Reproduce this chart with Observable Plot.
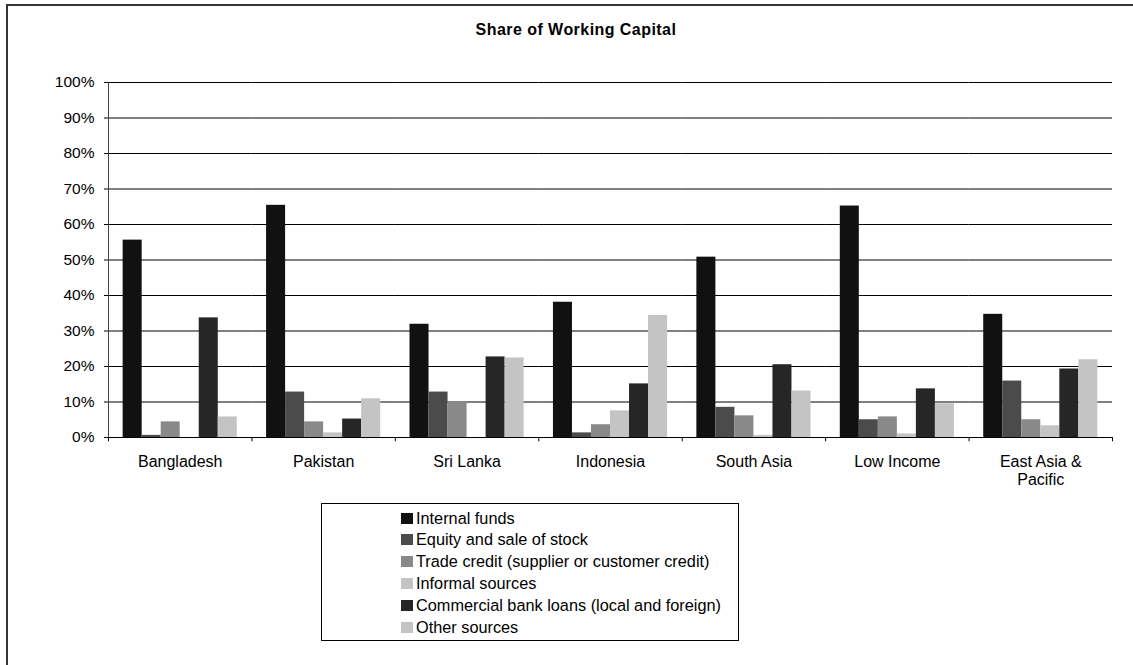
<!DOCTYPE html>
<html>
<head>
<meta charset="utf-8">
<script src="https://cdn.jsdelivr.net/npm/d3@7"></script>
<script src="https://cdn.jsdelivr.net/npm/@observablehq/plot@0.6"></script>
<style>
  html, body { margin: 0; padding: 0; background: #fff; }
  body { width: 1133px; height: 665px; position: relative; overflow: hidden;
         font-family: "Liberation Sans", Arial, Helvetica, sans-serif; color: #000; }
  #frame { position: absolute; left: 6px; top: 4px; width: 1200px; height: 720px;
           border-left: 2px solid #333; border-top: 2px solid #333; }
  #title { position: absolute; left: 0; width: 1152px; top: 21px; text-align: center;
           font-weight: bold; font-size: 16px; letter-spacing: 0.45px; }
  #chart { position: absolute; left: 0; top: 0; }
  #legend { position: absolute; left: 321px; top: 503px; width: 418px; height: 138px;
            border: 1px solid #000; box-sizing: border-box; }
  .item { position: absolute; left: 79px; height: 20px; display: flex; align-items: center;
          font-size: 16.3px; white-space: nowrap; }
  .sw { width: 12px; height: 11px; margin-right: 3px; }
</style>
</head>
<body>
<div id="frame"></div>
<div id="title">Share of Working Capital</div>
<div id="chart"></div>
<div id="legend"></div>
<script>
const countries = ["Bangladesh", "Pakistan", "Sri Lanka", "Indonesia", "South Asia", "Low Income", "East Asia & Pacific"];
const series = [
  "Internal funds",
  "Equity and sale of stock",
  "Trade credit (supplier or customer credit)",
  "Informal sources",
  "Commercial bank loans (local and foreign)",
  "Other sources"
];
const colors = ["#111111", "#4b4b4b", "#898989", "#c4c4c4", "#262626", "#c4c4c4"];

const internalFunds = [55.6, 65.4, 31.9, 38.1, 50.8, 65.2, 34.7];
const equity        = [0.6, 12.8, 12.8, 1.3, 8.5, 5.0, 15.9];
const tradeCredit   = [4.4, 4.4, 10.1, 3.6, 6.1, 5.8, 5.0];
const informal      = [0, 1.3, 0, 7.5, 0.6, 1.0, 3.3];
const bankLoans     = [33.7, 5.2, 22.7, 15.1, 20.5, 13.7, 19.3];
const otherSources  = [5.8, 10.9, 22.4, 34.4, 13.1, 9.5, 21.9];

const yTicks = [0, 10, 20, 30, 40, 50, 60, 70, 80, 90, 100];

const seriesValues = [internalFunds, equity, tradeCredit, informal, bankLoans, otherSources];
const data = [];
countries.forEach((c, i) => {
  series.forEach((s, j) => {
    data.push({country: c, series: s, value: seriesValues[j][i]});
  });
});

const W = 1133, H = 500, mL = 108, mR = 21, mT = 82, mB = 63;
const outer = 0.77;
const groupW = (W - mL - mR) / countries.length;
const step = groupW / (series.length + 2 * outer);
const edgeOffset = step / 2 + outer * step;

const leftEdges = countries.map(c => ({country: c, s: series[0]}));
const lastEdge = [{country: countries[countries.length - 1], s: series[series.length - 1]}];
const axisEdge = [{country: countries[0], s: series[0]}];

const chart = Plot.plot({
  width: W, height: H,
  marginLeft: mL, marginRight: mR, marginTop: mT, marginBottom: mB,
  style: {fontFamily: "'Liberation Sans', Arial, sans-serif", color: "#000", background: "transparent", overflow: "visible"},
  fx: {domain: countries, padding: 0, round: false, label: null},
  x: {domain: series, paddingInner: 0, paddingOuter: outer, round: false, axis: null},
  y: {domain: [0, 100], label: null},
  color: {domain: series, range: colors},
  marks: [
    Plot.gridY(yTicks, {stroke: "#000", strokeOpacity: 1, strokeWidth: 1}),
    Plot.axisY(yTicks, {tickFormat: d => d + "%", tickSize: 4, tickPadding: 10, fontSize: 15.5, label: null, stroke: "#000"}),
    Plot.barY(data.filter(d => d.value > 0), {fx: "country", x: "series", y: "value", fill: "series"}),
    Plot.ruleY([0], {stroke: "#000"}),
    Plot.ruleX(axisEdge, {fx: "country", x: "s", y1: 0, y2: 100, dx: -edgeOffset, stroke: "#444"}),
    Plot.ruleX(leftEdges, {fx: "country", x: "s", y1: 0, y2: -1.2, dx: -edgeOffset, stroke: "#000"}),
    Plot.ruleX(lastEdge, {fx: "country", x: "s", y1: 0, y2: -1.2, dx: edgeOffset, stroke: "#000"}),
    Plot.axisFx({anchor: "bottom", tickSize: 0, tickPadding: 17, fontSize: 16, lineWidth: 7, lineHeight: 1.1, label: null})
  ]
});
document.getElementById("chart").appendChild(chart);

const legend = document.getElementById("legend");
const rowTop = 4, rowStep = 21.8;
series.forEach((s, i) => {
  const item = document.createElement("div");
  item.className = "item";
  item.style.top = (rowTop + i * rowStep) + "px";
  const sw = document.createElement("div");
  sw.className = "sw";
  sw.style.background = colors[i];
  const label = document.createElement("span");
  label.textContent = s;
  item.appendChild(sw);
  item.appendChild(label);
  legend.appendChild(item);
});
</script>
</body>
</html>
